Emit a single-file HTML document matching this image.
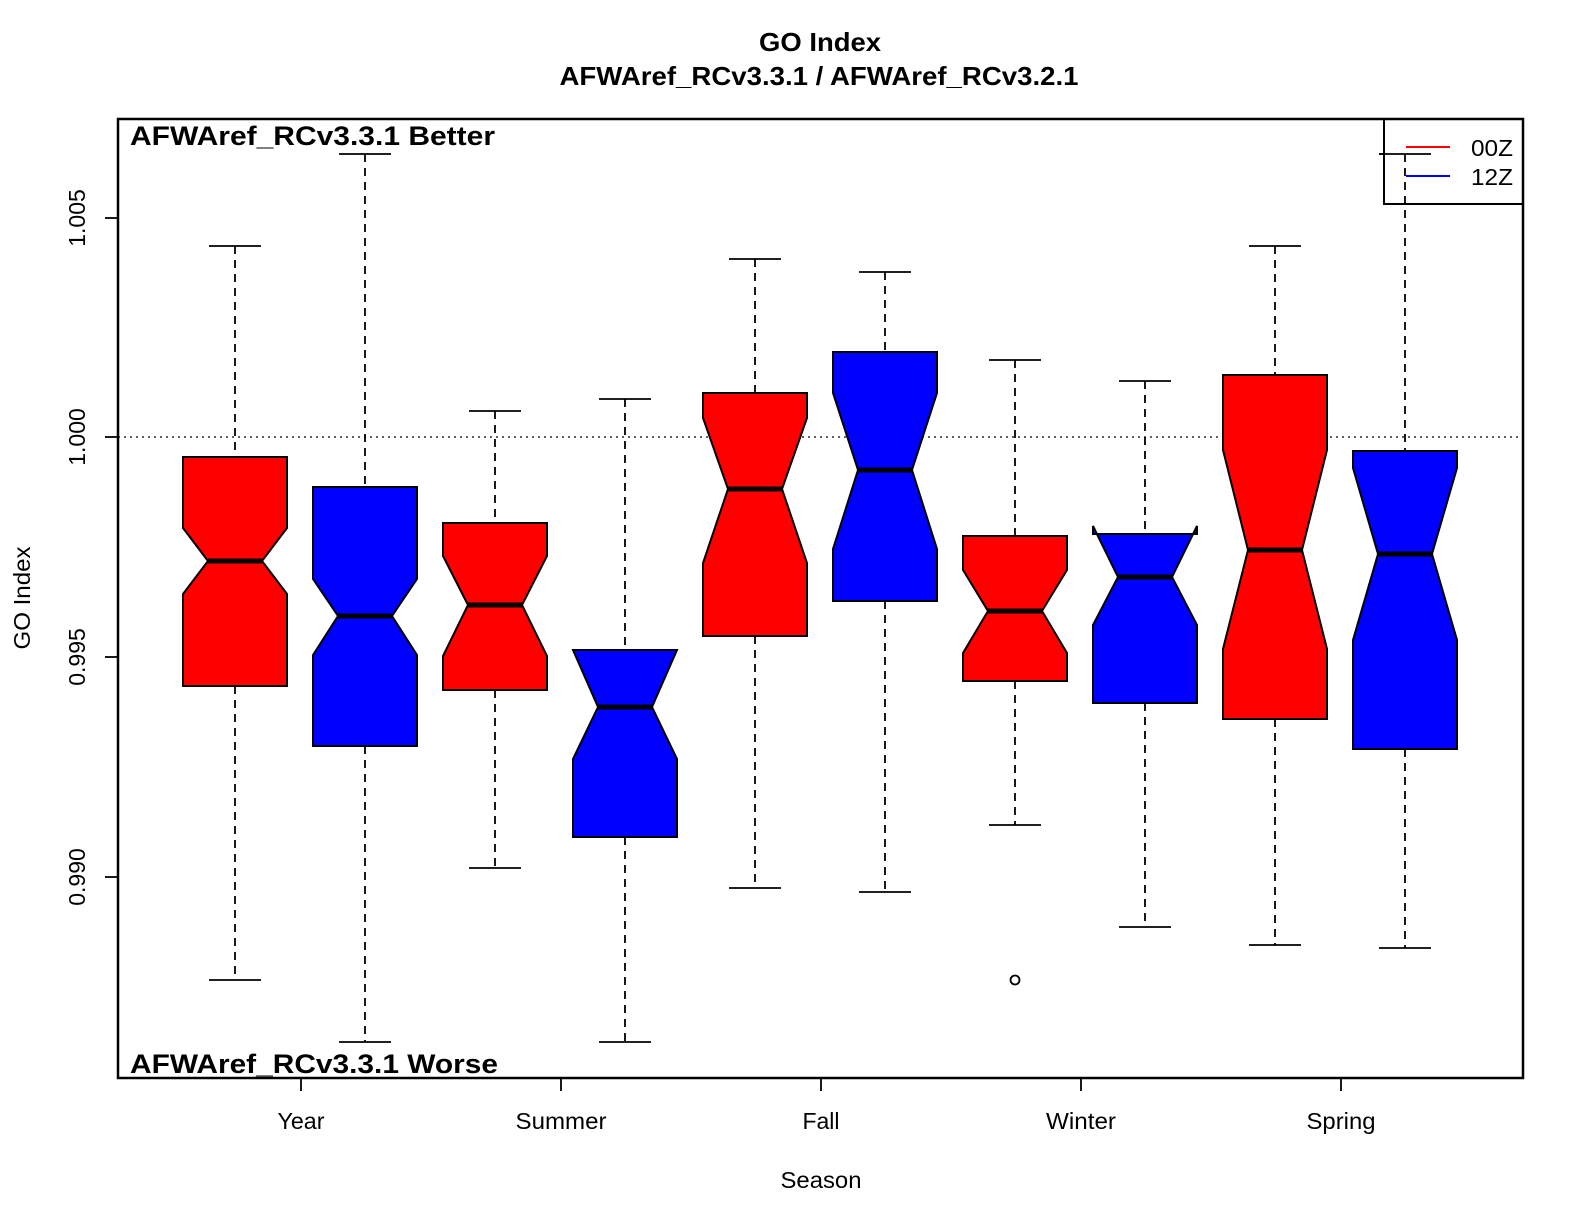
<!DOCTYPE html>
<html><head><meta charset="utf-8"><style>
html,body{margin:0;padding:0;background:#fff;}
svg{display:block;font-family:"Liberation Sans",sans-serif;}
</style></head><body>
<svg width="1584" height="1224" viewBox="0 0 1584 1224" xmlns="http://www.w3.org/2000/svg">
<rect width="1584" height="1224" fill="#fff"/>
<text x="820" y="51" font-size="26" font-weight="bold" text-anchor="middle" textLength="122" lengthAdjust="spacingAndGlyphs">GO Index</text>
<text x="819" y="85" font-size="26" font-weight="bold" text-anchor="middle" textLength="519" lengthAdjust="spacingAndGlyphs">AFWAref_RCv3.3.1 / AFWAref_RCv3.2.1</text>
<line x1="118" y1="437" x2="1523" y2="437" stroke="#000" stroke-width="1.3" stroke-dasharray="2,4"/>
<g stroke="#000" stroke-width="1.8" fill="none">
<g stroke-dasharray="8,6">
<line x1="235" y1="246" x2="235" y2="457"/><line x1="235" y1="686" x2="235" y2="980"/>
<line x1="365" y1="154" x2="365" y2="487"/><line x1="365" y1="746" x2="365" y2="1042"/>
<line x1="495" y1="411" x2="495" y2="523"/><line x1="495" y1="690" x2="495" y2="868"/>
<line x1="625" y1="399" x2="625" y2="650"/><line x1="625" y1="837" x2="625" y2="1042"/>
<line x1="755" y1="259" x2="755" y2="393"/><line x1="755" y1="636" x2="755" y2="888"/>
<line x1="885" y1="272" x2="885" y2="352"/><line x1="885" y1="601" x2="885" y2="892"/>
<line x1="1015" y1="360" x2="1015" y2="536"/><line x1="1015" y1="681" x2="1015" y2="825"/>
<line x1="1145" y1="381" x2="1145" y2="534"/><line x1="1145" y1="703" x2="1145" y2="927"/>
<line x1="1275" y1="246" x2="1275" y2="375"/><line x1="1275" y1="719" x2="1275" y2="945"/>
<line x1="1405" y1="154" x2="1405" y2="451"/><line x1="1405" y1="749" x2="1405" y2="948"/>
</g>
<g>
<line x1="209" y1="246" x2="261" y2="246"/><line x1="209" y1="980" x2="261" y2="980"/>
<line x1="339" y1="154" x2="391" y2="154"/><line x1="339" y1="1042" x2="391" y2="1042"/>
<line x1="469" y1="411" x2="521" y2="411"/><line x1="469" y1="868" x2="521" y2="868"/>
<line x1="599" y1="399" x2="651" y2="399"/><line x1="599" y1="1042" x2="651" y2="1042"/>
<line x1="729" y1="259" x2="781" y2="259"/><line x1="729" y1="888" x2="781" y2="888"/>
<line x1="859" y1="272" x2="911" y2="272"/><line x1="859" y1="892" x2="911" y2="892"/>
<line x1="989" y1="360" x2="1041" y2="360"/><line x1="989" y1="825" x2="1041" y2="825"/>
<line x1="1119" y1="381" x2="1171" y2="381"/><line x1="1119" y1="927" x2="1171" y2="927"/>
<line x1="1249" y1="246" x2="1301" y2="246"/><line x1="1249" y1="945" x2="1301" y2="945"/>
<line x1="1379" y1="154" x2="1431" y2="154"/><line x1="1379" y1="948" x2="1431" y2="948"/>
</g>
</g>
<g stroke="#000" stroke-width="2">
<polygon fill="#ff0000" points="183,686 183,594 208,561 183,528 183,457 287,457 287,528 262,561 287,594 287,686"/>
<polygon fill="#0000ff" points="313,746 313,655 338,616 313,579 313,487 417,487 417,579 392,616 417,655 417,746"/>
<polygon fill="#ff0000" points="443,690 443,656 468,605 443,556 443,523 547,523 547,556 522,605 547,656 547,690"/>
<polygon fill="#0000ff" points="573,837 573,759 598,707 573,650 677,650 652,707 677,759 677,837"/>
<polygon fill="#ff0000" points="703,636 703,563 728,489 703,418 703,393 807,393 807,418 782,489 807,563 807,636"/>
<polygon fill="#0000ff" points="833,601 833,549 858,470 833,393 833,352 937,352 937,393 912,470 937,549 937,601"/>
<polygon fill="#ff0000" points="963,681 963,653 988,611 963,570 963,536 1067,536 1067,570 1042,611 1067,653 1067,681"/>
<polygon fill="#0000ff" points="1093,703 1093,625 1118,577 1093,526 1093,534 1197,534 1197,526 1172,577 1197,625 1197,703"/>
<polygon fill="#ff0000" points="1223,719 1223,649 1248,550 1223,450 1223,375 1327,375 1327,450 1302,550 1327,649 1327,719"/>
<polygon fill="#0000ff" points="1353,749 1353,640 1378,554 1353,468 1353,451 1457,451 1457,468 1432,554 1457,640 1457,749"/>
</g>
<g stroke="#000" stroke-width="5">
<line x1="208" y1="561" x2="262" y2="561"/><line x1="338" y1="616" x2="392" y2="616"/>
<line x1="468" y1="605" x2="522" y2="605"/><line x1="598" y1="707" x2="652" y2="707"/>
<line x1="728" y1="489" x2="782" y2="489"/><line x1="858" y1="470" x2="912" y2="470"/>
<line x1="988" y1="611" x2="1042" y2="611"/><line x1="1118" y1="577" x2="1172" y2="577"/>
<line x1="1248" y1="550" x2="1302" y2="550"/><line x1="1378" y1="554" x2="1432" y2="554"/>
</g>
<circle cx="1015" cy="980" r="4.5" fill="none" stroke="#000" stroke-width="1.8"/>
<rect x="1384" y="119" width="139" height="85" fill="#fff" stroke="#000" stroke-width="2"/>
<line x1="1379" y1="154" x2="1431" y2="154" stroke="#000" stroke-width="1.8"/>
<line x1="1405" y1="154" x2="1405" y2="204" stroke="#000" stroke-width="1.8" stroke-dasharray="8,6"/>
<line x1="1406" y1="147" x2="1450" y2="147" stroke="#ff0000" stroke-width="2"/>
<line x1="1406" y1="176" x2="1450" y2="176" stroke="#0000ff" stroke-width="2"/>
<text x="1471" y="156" font-size="23" textLength="42" lengthAdjust="spacingAndGlyphs">00Z</text>
<text x="1471" y="185" font-size="23" textLength="42" lengthAdjust="spacingAndGlyphs">12Z</text>
<rect x="118" y="119" width="1405" height="959" fill="none" stroke="#000" stroke-width="2.5"/>
<text x="130" y="145" font-size="27" font-weight="bold" textLength="365" lengthAdjust="spacingAndGlyphs">AFWAref_RCv3.3.1 Better</text>
<text x="130" y="1073" font-size="27" font-weight="bold" textLength="368" lengthAdjust="spacingAndGlyphs">AFWAref_RCv3.3.1 Worse</text>
<g stroke="#000" stroke-width="1.8">
<line x1="105" y1="218" x2="118" y2="218"/><line x1="105" y1="437" x2="118" y2="437"/>
<line x1="105" y1="657" x2="118" y2="657"/><line x1="105" y1="877" x2="118" y2="877"/>
<line x1="301" y1="1078" x2="301" y2="1091"/><line x1="561" y1="1078" x2="561" y2="1091"/>
<line x1="821" y1="1078" x2="821" y2="1091"/><line x1="1081" y1="1078" x2="1081" y2="1091"/>
<line x1="1341" y1="1078" x2="1341" y2="1091"/>
</g>
<g font-size="23" text-anchor="middle">
<text transform="translate(85,218) rotate(-90)">1.005</text>
<text transform="translate(85,437) rotate(-90)">1.000</text>
<text transform="translate(85,657) rotate(-90)">0.995</text>
<text transform="translate(85,877) rotate(-90)">0.990</text>
<text transform="translate(30,598) rotate(-90)" textLength="103" lengthAdjust="spacingAndGlyphs">GO Index</text>
<text x="301" y="1129" textLength="47" lengthAdjust="spacingAndGlyphs">Year</text>
<text x="561" y="1129" textLength="91" lengthAdjust="spacingAndGlyphs">Summer</text>
<text x="821" y="1129">Fall</text>
<text x="1081" y="1129" textLength="70" lengthAdjust="spacingAndGlyphs">Winter</text>
<text x="1341" y="1129" textLength="69" lengthAdjust="spacingAndGlyphs">Spring</text>
<text x="821" y="1188" textLength="81" lengthAdjust="spacingAndGlyphs">Season</text>
</g>
</svg>
</body></html>
